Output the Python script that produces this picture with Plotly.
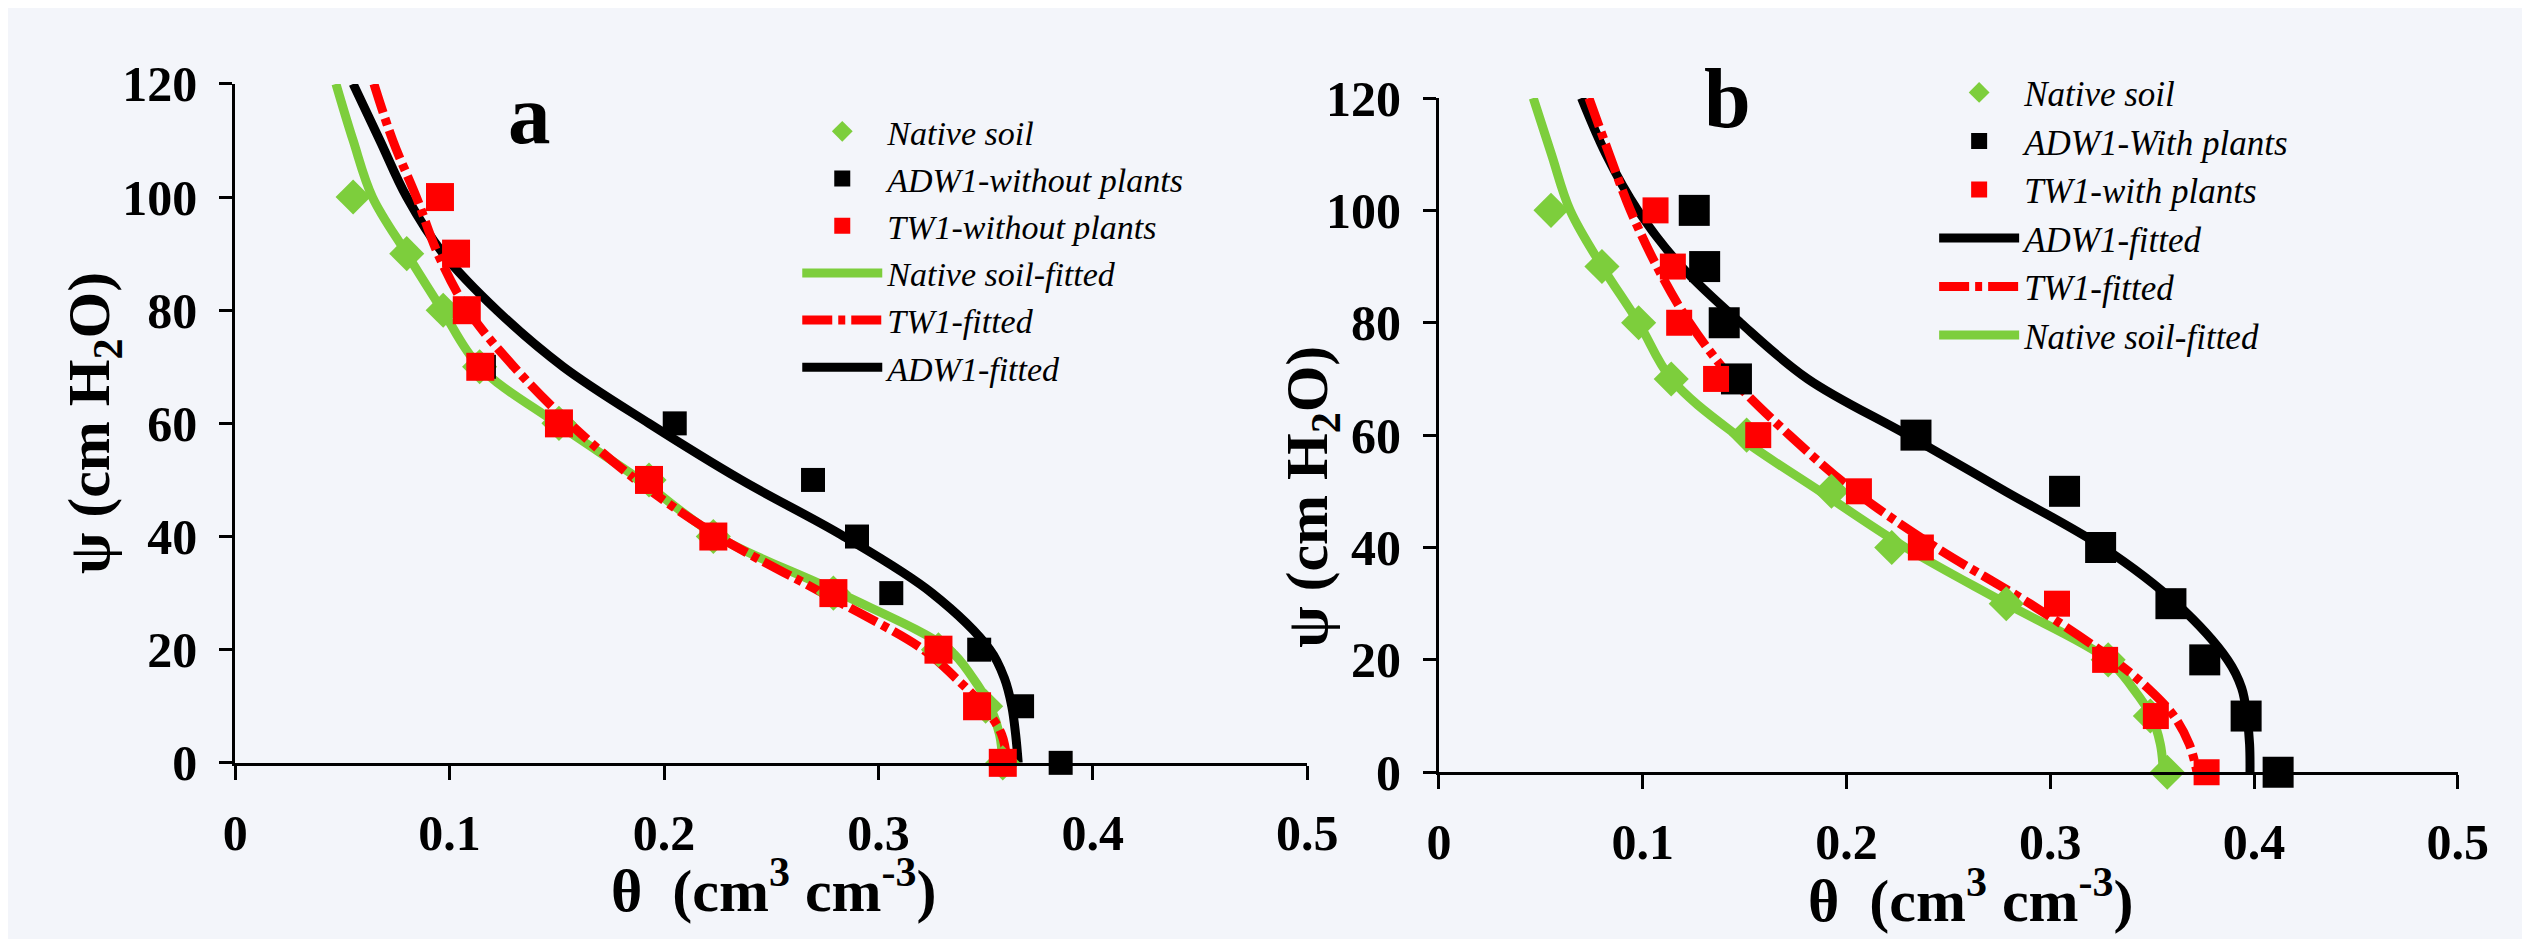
import plotly.graph_objects as go

# ---------------- data ----------------
psi_obs = [100, 90, 80, 70, 60, 50, 40, 30, 20, 10, 0]
psi_fit = [120, 110, 100, 90, 80, 70, 60, 50, 40, 30, 20, 15, 10, 5, 0]

# panel a (without plants)
a_native_theta = [0.055, 0.080, 0.097, 0.114, 0.151, 0.193, 0.223, 0.279, 0.328, 0.350, 0.358]
a_tw1_theta = [0.0955, 0.103, 0.108, 0.1143, 0.151, 0.193, 0.223, 0.279, 0.328, 0.346, 0.358]
a_adw1_psi = [70, 60, 50, 40, 30, 20, 10, 0]
a_adw1_theta = [0.116, 0.205, 0.2695, 0.290, 0.306, 0.347, 0.367, 0.385]

a_native_fit = [0.047, 0.055, 0.064, 0.080, 0.0966, 0.114, 0.150, 0.189, 0.225, 0.282, 0.333, 0.344, 0.352, 0.3565, 0.358]
a_tw1_fit = [0.0647, 0.0735, 0.0845, 0.0945, 0.1085, 0.130, 0.156, 0.187, 0.2255, 0.274, 0.321, 0.336, 0.349, 0.3575, 0.360]
a_adw1_fit = [0.055, 0.0675, 0.080, 0.097, 0.122, 0.153, 0.193, 0.236, 0.284, 0.325, 0.352, 0.3587, 0.3622, 0.364, 0.3652]

# panel b (with plants)
b_native_theta = [0.055, 0.080, 0.098, 0.114, 0.151, 0.1926, 0.2222, 0.2784, 0.3284, 0.3491, 0.3574]
b_adw1_theta = [0.1253, 0.1304, 0.140, 0.146, 0.2341, 0.307, 0.3247, 0.3592, 0.3758, 0.3961, 0.4118]
b_tw1_theta = [0.1063, 0.1148, 0.1179, 0.136, 0.1567, 0.2061, 0.2365, 0.3033, 0.3269, 0.3518, 0.3767]

b_native_fit = [0.0463, 0.0552, 0.0644, 0.0801, 0.098, 0.114, 0.146, 0.187, 0.229, 0.2784, 0.3284, 0.3404, 0.3496, 0.354, 0.3555]
b_tw1_fit = [0.0736, 0.0836, 0.094, 0.107, 0.123, 0.144, 0.172, 0.204, 0.244, 0.290, 0.331, 0.3478, 0.3607, 0.3682, 0.372]
b_adw1_fit = [0.070, 0.082, 0.0976, 0.119, 0.148, 0.181, 0.230, 0.278, 0.326, 0.362, 0.387, 0.3939, 0.3965, 0.3978, 0.398]

x_ticks = [0, 0.1, 0.2, 0.3, 0.4, 0.5]
x_ticklabels = ["0", "0.1", "0.2", "0.3", "0.4", "0.5"]
y_ticks = [0, 20, 40, 60, 80, 100, 120]

# ---------------- styles ----------------
GREEN = "#7DCE3C"
RED = "#FF0000"
BLACK = "#000000"
BG = "#F3F5FA"
SERIF = "Liberation Serif"
DASHDOT = "30px,6px,7px,6px"
LW = 9

fig = go.Figure()


def line(x, y, color, name, legend, rank, xa, ya, dash=None):
    fig.add_trace(go.Scatter(
        x=x, y=y, mode="lines", name=name, legend=legend, legendrank=rank,
        line=dict(color=color, width=LW, shape="spline", smoothing=1.0, dash=dash),
        xaxis=xa, yaxis=ya, cliponaxis=False))


def pts(x, y, color, symbol, size, name, legend, rank, xa, ya):
    fig.add_trace(go.Scatter(
        x=x, y=y, mode="markers", name=name, legend=legend, legendrank=rank,
        marker=dict(color=color, symbol=symbol, size=size, line=dict(width=0)),
        xaxis=xa, yaxis=ya, cliponaxis=False))


# panel a
line(a_native_fit, psi_fit, GREEN, "<i>Native soil-fitted</i>", "legend", 4, "x", "y")
line(a_adw1_fit, psi_fit, BLACK, "<i>ADW1-fitted</i>", "legend", 6, "x", "y")
line(a_tw1_fit, psi_fit, RED, "<i>TW1-fitted</i>", "legend", 5, "x", "y", DASHDOT)
pts(a_native_theta, psi_obs, GREEN, "diamond", 27, "<i>Native soil</i>", "legend", 1, "x", "y")
pts(a_adw1_theta, a_adw1_psi, BLACK, "square", 24, "<i>ADW1-without plants</i>", "legend", 2, "x", "y")
pts(a_tw1_theta, psi_obs, RED, "square", 28, "<i>TW1-without plants</i>", "legend", 3, "x", "y")

# panel b
line(b_native_fit, psi_fit, GREEN, "<i>Native soil-fitted</i>", "legend2", 6, "x2", "y2")
line(b_adw1_fit, psi_fit, BLACK, "<i>ADW1-fitted</i>", "legend2", 4, "x2", "y2")
line(b_tw1_fit, psi_fit, RED, "<i>TW1-fitted</i>", "legend2", 5, "x2", "y2", DASHDOT)
pts(b_native_theta, psi_obs, GREEN, "diamond", 27, "<i>Native soil</i>", "legend2", 1, "x2", "y2")
pts(b_adw1_theta, psi_obs, BLACK, "square", 31, "<i>ADW1-With plants</i>", "legend2", 2, "x2", "y2")
pts(b_tw1_theta, psi_obs, RED, "square", 26, "<i>TW1-with plants</i>", "legend2", 3, "x2", "y2")

W, H = 2530, 939

tickfont = dict(family=SERIF, size=50, color="black", weight="bold")
xax = dict(range=[0, 0.5], tickvals=x_ticks, ticktext=x_ticklabels, showgrid=False, zeroline=False,
           showline=True, linecolor="black", linewidth=3, ticks="outside", ticklen=14,
           tickwidth=3, tickcolor="black", tickfont=tickfont, ticklabelstandoff=10)
yax = dict(range=[0, 120], tickvals=y_ticks, showgrid=False, zeroline=False,
           showline=True, linecolor="black", linewidth=3, ticks="outside", ticklen=13,
           tickwidth=3, tickcolor="black", tickfont=tickfont, ticklabelstandoff=12)

legfont = dict(family=SERIF, size=34, color="black", style="italic")

fig.update_layout(
    width=W, height=H, autosize=False,
    margin=dict(l=0, r=0, t=0, b=0),
    paper_bgcolor=BG, plot_bgcolor=BG,
    xaxis=dict(xax, domain=[218 / W, 1309 / W], anchor="y"),
    yaxis=dict(yax, domain=[(H - 774) / H, (H - 52) / H], anchor="x"),
    xaxis2=dict(xax, domain=[1443 / W, 2480 / W], anchor="y2"),
    yaxis2=dict(yax, domain=[(H - 784) / H, (H - 67) / H], anchor="x2"),
    legend=dict(x=790 / W, y=1 - 72 / H, xanchor="left", yanchor="top",
                font=legfont, bgcolor="rgba(0,0,0,0)", itemwidth=80,
                traceorder="normal", tracegroupgap=0),
    legend2=dict(x=1947 / W, y=1 - 30 / H, xanchor="left", yanchor="top",
                 font=dict(legfont, size=35), bgcolor="rgba(0,0,0,0)", itemwidth=80,
                 traceorder="normal", tracegroupgap=0),
    showlegend=True,
)

title_font = dict(family=SERIF, size=60, color="black", weight="bold")
ann = [
    dict(text="ψ (cm H<sub>2</sub>O)", x=74 / W, y=1 - 413 / H, textangle=-90, font=title_font),
    dict(text="θ\u00a0 (cm<sup>3</sup> cm<sup>-3</sup>)", x=766 / W, y=1 - 905 / H, font=title_font),
    dict(text="ψ (cm H<sub>2</sub>O)", x=1314 / W, y=1 - 491 / H, textangle=-90, font=title_font),
    dict(text="θ\u00a0 (cm<sup>3</sup> cm<sup>-3</sup>)", x=1985 / W, y=1 - 916 / H, font=title_font),
    dict(text="a", x=518 / W, y=1 - 84 / H, font=dict(family=SERIF, size=85, color="black", weight="bold")),
    dict(text="b", x=1737 / W, y=1 - 67 / H, font=dict(family=SERIF, size=84, color="black", weight="bold")),
]
for a in ann:
    a.update(xref="paper", yref="paper", xanchor="center", yanchor="middle", showarrow=False)
fig.update_layout(annotations=ann)

fig.write_html("out.html")
